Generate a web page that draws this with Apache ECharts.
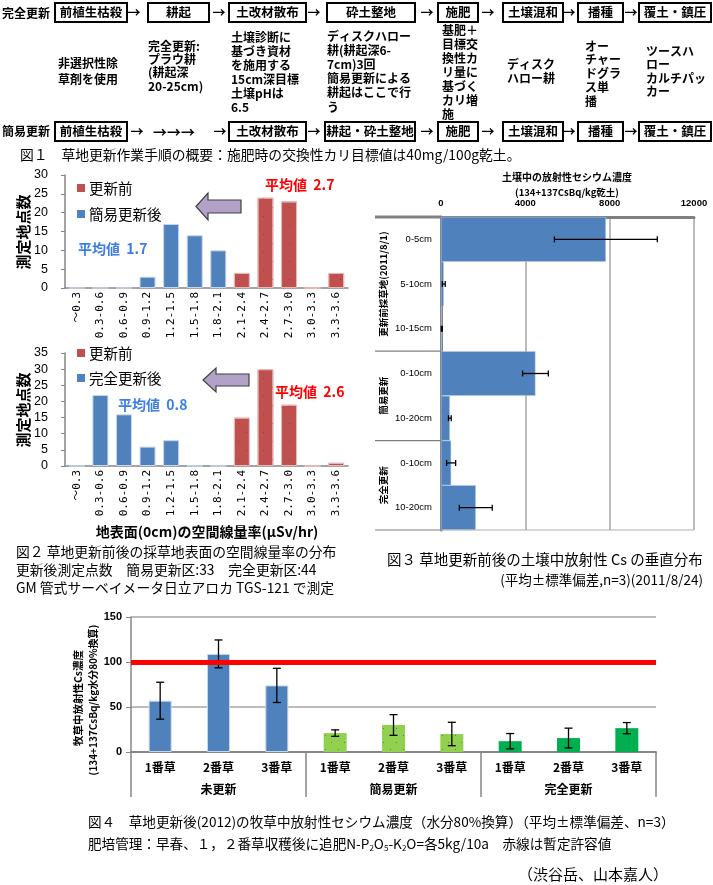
<!DOCTYPE html>
<html><head><meta charset="utf-8">
<script src="https://cdn.jsdelivr.net/npm/echarts@6/dist/echarts.min.js"></script>
<style>html,body{margin:0;padding:0;background:#fff}#c{width:713px;height:885px}</style>
</head><body><div id="c"></div>
<script>
// ---------------- DATA ----------------
// Fig.1 flowchart text
const flowFull = ['前植生枯殺','耕起','土改材散布','砕土整地','施肥','土壌混和','播種','覆土・鎮圧'];
const flowSimple = ['前植生枯殺','土改材散布','耕起・砕土整地','施肥','土壌混和','播種','覆土・鎮圧'];
const flowNotes = [
  ['非選択性除','草剤を使用'],
  ['完全更新:','プラウ耕','(耕起深','20-25cm)'],
  ['土壌診断に','基づき資材','を施用する','15cm深目標','土壌pHは','6.5'],
  ['ディスクハロー','耕(耕起深6-','7cm)3回','簡易更新による','耕起はここで行','う'],
  ['基肥＋','目標交','換性カ','リ量に','基づく','カリ増','施'],
  ['ディスク','ハロー耕'],
  ['オー','チャー','ドグラ','ス単','播'],
  ['ツースハ','ロー','カルチパッ','カー']
];
// Fig.2 histograms
const doseCats = ['～0.3','0.3-0.6','0.6-0.9','0.9-1.2','1.2-1.5','1.5-1.8','1.8-2.1','2.1-2.4','2.4-2.7','2.7-3.0','3.0-3.3','3.3-3.6'];
const simpleBefore = ['-','-','-','-','-','-','-',4,24,23,0,4];
const simpleAfter  = [0,0,0,3,17,14,10,'-','-','-','-','-'];
const fullBefore   = ['-','-','-','-','-','-','-',15,30,19,0,1];
const fullAfter    = [0,22,16,6,8,0,0,'-','-','-','-','-'];
const countTicksTop = [0,5,10,15,20,25,30];
const countTicksBottom = [0,5,10,15,20,25,30,35];
// Fig.3 soil Cs profile
const soilGroups = ['更新前採草地(2011/8/1)','簡易更新','完全更新'];
const soilDepths = ['0-5cm','5-10cm','10-15cm','0-10cm','10-20cm','0-10cm','10-20cm'];
const soilMean = [7820, 130, 40, 4480, 420, 480, 1650];
const soilSD   = [2440, 70, 25, 610, 65, 215, 780];
const soilTicks = [0,4000,8000,12000];
// Fig.4 grass Cs
const grassCuts = ['1番草','2番草','3番草','1番草','2番草','3番草','1番草','2番草','3番草'];
const grassGroups = ['未更新','簡易更新','完全更新'];
const grassNoRenew = [57,109,74,'-','-','-','-','-','-'];
const grassSimple  = ['-','-','-',21,30,20,'-','-','-'];
const grassFull    = ['-','-','-','-','-','-',12,15.5,26.5];
const grassSD      = [20.5,15.5,19,3.6,11.5,13,8.5,11,6.2];
const grassTicks = [0,50,100,150];
const limitValue = 100;

// ---------------- HELPERS ----------------
const JP = "'Noto Sans CJK JP', sans-serif";
const LAT = "'Liberation Sans', Arial, sans-serif";
function T(x, y, text, o) {
  o = o || {};
  return {
    type: 'text', x: x, y: y, rotation: o.rot || 0, silent: true, z: 100,
    style: {
      text: text, fill: o.color || '#000',
      fontSize: o.size || 12, fontWeight: o.weight || 'normal', fontFamily: o.family || JP,
      align: o.align || 'left', textAlign: o.align || 'left',
      verticalAlign: o.va || 'middle', textVerticalAlign: o.va || 'middle',
      lineHeight: o.lh || undefined, rich: o.rich || undefined
    }
  };
}
function L(x1, y1, x2, y2, color, w) {
  return { type: 'line', silent: true, z: 50, shape: {x1, y1, x2, y2}, style: {stroke: color, lineWidth: w} };
}
const dotsBlue = {symbol:'rect', symbolSize:1, color:'#4a4f9a', dashArrayX:[[1,16],[0,8,1,8]], dashArrayY:[1,8], rotation:0};
const dotsGreen = {symbol:'rect', symbolSize:1, color:'#5b8a33', dashArrayX:[[1,12],[0,6,1,6]], dashArrayY:[1,6], rotation:0};

function vErr(params, api) {
  const x = api.value(0);
  const lo = api.coord([x, api.value(1)]);
  const hi = api.coord([x, api.value(2)]);
  const hw = 4, st = {stroke:'#000', lineWidth:1.3};
  return {type:'group', children:[
    {type:'line', shape:{x1:hi[0]-hw, y1:hi[1], x2:hi[0]+hw, y2:hi[1]}, style:st},
    {type:'line', shape:{x1:hi[0], y1:hi[1], x2:lo[0], y2:lo[1]}, style:st},
    {type:'line', shape:{x1:lo[0]-hw, y1:lo[1], x2:lo[0]+hw, y2:lo[1]}, style:st}
  ]};
}
function hErr(params, api) {
  const y = api.value(0);
  const lo = api.coord([api.value(1), y]);
  const hi = api.coord([api.value(2), y]);
  const hh = 3, st = {stroke:'#000', lineWidth:1.3};
  return {type:'group', children:[
    {type:'line', shape:{x1:lo[0], y1:lo[1]-hh, x2:lo[0], y2:lo[1]+hh}, style:st},
    {type:'line', shape:{x1:lo[0], y1:lo[1], x2:hi[0], y2:hi[1]}, style:st},
    {type:'line', shape:{x1:hi[0], y1:hi[1]-hh, x2:hi[0], y2:hi[1]+hh}, style:st}
  ]};
}
const soilErr = soilMean.map((m,i) => [i, Math.max(0, m - soilSD[i]), m + soilSD[i]]);
const grassVals = grassNoRenew.map((v,i) => v !== '-' ? v : (grassSimple[i] !== '-' ? grassSimple[i] : grassFull[i]));
const grassErr = grassVals.map((m,i) => [i, m - grassSD[i], m + grassSD[i]]);

// ---------------- GRAPHIC (flowchart, captions, legends) ----------------
const G = [];
const row1Box = [[55,127],[148,209],[229,306],[327,415],[438,478],[503,563],[578,623],[639,711]];
const row2Box = [[55,127],[229,306],[325,415],[438,478],[503,563],[578,623],[639,711]];
function boxes(list, labels, y1, y2) {
  list.forEach((b, i) => {
    G.push({type:'rect', silent:true, z:60, shape:{x:b[0], y:y1, width:b[1]-b[0], height:y2-y1},
            style:{fill:'#fff', stroke:'#000', lineWidth:2}});
    G.push(T((b[0]+b[1])/2, (y1+y2)/2, labels[i], {size:12.5, weight:'bold', align:'center'}));
  });
}
boxes(row1Box, flowFull, 3, 22);
boxes(row2Box, flowSimple, 122, 141);
G.push(T(2, 13, '完全更新', {size:12, weight:'bold'}));
G.push(T(2, 131.5, '簡易更新', {size:12, weight:'bold'}));
[134, 219, 314, 427, 488, 569, 631].forEach(x => G.push(T(x, 12.5, '→', {size:13, weight:'bold', align:'center'})));
[137, 220, 314, 427, 488, 569, 631].forEach(x => G.push(T(x, 131.5, '→', {size:13, weight:'bold', align:'center'})));
G.push(T(174, 131.5, '→→→', {size:14, weight:'bold', align:'center'}));
const noteLayout = [[58,63,16],[148,46,13.4],[231,37,14],[327,36,14.2],[442,30,14.1],[507,64,14],[585,46,13.8],[646,51,13.5]];
flowNotes.forEach((lines, i) => {
  const [x, y0, lh] = noteLayout[i];
  G.push(T(x, y0 - lh/2, lines.join('\n'), {size:12, weight:'bold', va:'top', lh:lh}));
});
G.push(T(20, 155, '図１　草地更新作業手順の概要：施肥時の交換性カリ目標値は40mg/100g乾土。', {size:13.8}));

// Fig 2 legends / annotations
function legend2(yRed, yBlue, blueText) {
  G.push({type:'rect', silent:true, z:60, shape:{x:77, y:yRed-4, width:8, height:8}, style:{fill:'#c0504d'}});
  G.push(T(89, yRed, '更新前', {size:14.5}));
  G.push({type:'rect', silent:true, z:60, shape:{x:77, y:yBlue-4, width:8, height:8}, style:{fill:'#4f81bd'}});
  G.push(T(89, yBlue, blueText, {size:14.5}));
}
legend2(188, 214, '簡易更新後');
legend2(353, 378, '完全更新後');
function blockArrow(tx, ty, headX, shaftEnd, hh, sh) {
  G.push({type:'polygon', silent:true, z:60, shape:{points:[
    [tx,ty],[headX,ty-hh],[headX,ty-sh],[shaftEnd,ty-sh],[shaftEnd,ty+sh],[headX,ty+sh],[headX,ty+hh]]},
    style:{fill:'#b3a2c7', stroke:'#404040', lineWidth:1.2}});
}
blockArrow(196, 206.5, 208, 241, 13.5, 6.5);
blockArrow(203, 380, 216, 249, 12, 6);
G.push(T(265, 185, '平均値  2.7', {size:14, weight:'bold', color:'#ff0000'}));
G.push(T(78, 249, '平均値  1.7', {size:14, weight:'bold', color:'#3c7ee6'}));
G.push(T(275, 392, '平均値  2.6', {size:14, weight:'bold', color:'#ff0000'}));
G.push(T(118, 405, '平均値  0.8', {size:14, weight:'bold', color:'#3c7ee6'}));
G.push(T(23, 232, '測定地点数', {size:15, weight:'bold', align:'center', rot:Math.PI/2}));
G.push(T(23, 410, '測定地点数', {size:15, weight:'bold', align:'center', rot:Math.PI/2}));
G.push(T(207, 532, '地表面(0cm)の空間線量率(μSv/hr)', {size:14, weight:'bold', align:'center'}));
G.push(T(16, 552, '図２ 草地更新前後の採草地表面の空間線量率の分布', {size:13.8}));
G.push(T(16, 570, '更新後測定点数　簡易更新区:33　完全更新区:44', {size:13.8}));
G.push(T(16, 588, 'GM 管式サーベイメータ日立アロカ TGS-121 で測定', {size:13.8}));

// Fig 3 titles / captions
G.push(T(567, 177, '土壌中の放射性セシウム濃度', {size:10, weight:'bold', align:'center'}));
G.push(T(567, 192, '(134+137CsBq/kg乾土)', {size:9.5, weight:'bold', align:'center'}));
G.push(T(387, 559, '図３ 草地更新前後の土壌中放射性 Cs の垂直分布', {size:14.5}));
G.push(T(703, 580, '(平均±標準偏差,n=3)(2011/8/24)', {size:13.5, align:'right'}));

// Fig 4 axis title / captions
G.push(T(78, 698, '牧草中放射性Cs濃度', {size:10.5, weight:'bold', align:'center', rot:Math.PI/2}));
G.push(T(93, 700, '(134+137CsBq/kg水分80%換算)', {size:10, weight:'bold', align:'center', rot:Math.PI/2}));
G.push(T(88, 822, '図４　草地更新後(2012)の牧草中放射性セシウム濃度（水分80%換算）（平均±標準偏差、n=3）', {size:13.6}));
G.push(T(88, 844, '肥培管理：早春、１，２番草収穫後に追肥N-P{s|2}O{s|5}-K{s|2}O=各5kg/10a　赤線は暫定許容値',
  {size:13.6, rich:{s:{fontSize:8, fontFamily:JP, verticalAlign:'bottom', padding:[7,0,0,0]}}}));
G.push(T(668, 874, '（渋谷岳、山本嘉人）', {size:15, align:'right'}));

// ---------------- OPTION ----------------
const axisGray = '#868686';
const option = {
  animation: false,
  backgroundColor: '#fff',
  grid: [
    {left:65, top:175, width:283, height:113, outerBoundsMode:'none'},
    {left:65, top:353, width:283, height:113, outerBoundsMode:'none'},
    {left:441, top:217, width:253, height:313, outerBoundsMode:'none'},
    {left:131, top:617, width:525, height:135, outerBoundsMode:'none'}
  ],
  xAxis: [0,1].map(g => ({
    type:'category', gridIndex:g, data:doseCats,
    axisLine:{lineStyle:{color:axisGray, width:1.5}},
    axisTick:{length:5, lineStyle:{color:axisGray}},
    axisLabel:{interval:0, rotate:90, margin:4, fontSize:11, color:'#000',
               fontFamily:"'DejaVu Sans Mono','Noto Sans CJK JP',monospace"}
  })).concat([
    {type:'value', gridIndex:2, position:'top', min:soilTicks[0], max:soilTicks[soilTicks.length-1],
     interval:soilTicks[1]-soilTicks[0],
     axisLine:{show:true, lineStyle:{color:'#808080', width:3}}, axisTick:{show:false},
     axisLabel:{margin:9, fontSize:9.5, fontWeight:'bold', color:'#000', fontFamily:LAT, formatter: v => String(v)},
     splitLine:{show:true, lineStyle:{color:'#a6a6a6', width:1.5}}},
    {type:'category', gridIndex:3, data:grassCuts, position:'bottom',
     axisLine:{lineStyle:{color:axisGray, width:2}},
     axisTick:{length:22, lineStyle:{color:'#cfcfcf', width:2}},
     axisLabel:{interval:0, margin:9, fontSize:12, fontWeight:'bold', color:'#000', fontFamily:JP}},
    {type:'category', gridIndex:3, data:grassGroups, position:'bottom', offset:0,
     axisLine:{show:false},
     axisTick:{show:true, length:45, lineStyle:{color:axisGray, width:1.5}},
     axisLabel:{interval:0, margin:31, fontSize:12, fontWeight:'bold', color:'#000', fontFamily:JP}}
  ]),
  yAxis: [
    {type:'value', gridIndex:0, min:countTicksTop[0], max:countTicksTop[countTicksTop.length-1], interval:countTicksTop[1]-countTicksTop[0],
     axisLine:{show:true, lineStyle:{color:axisGray, width:1.5}}, axisTick:{show:true, length:4, lineStyle:{color:axisGray}},
     splitLine:{show:false}, axisLabel:{margin:17, fontSize:12.5, color:'#000', fontFamily:LAT}},
    {type:'value', gridIndex:1, min:countTicksBottom[0], max:countTicksBottom[countTicksBottom.length-1], interval:countTicksBottom[1]-countTicksBottom[0],
     axisLine:{show:true, lineStyle:{color:axisGray, width:1.5}}, axisTick:{show:true, length:4, lineStyle:{color:axisGray}},
     splitLine:{show:false}, axisLabel:{margin:17, fontSize:12.5, color:'#000', fontFamily:LAT}},
    {type:'category', gridIndex:2, data:soilDepths, inverse:true,
     axisLine:{lineStyle:{color:'#808080', width:3}},
     axisTick:{length:44, lineStyle:{color:'#909090', width:1}},
     axisLabel:{margin:9, fontSize:9.5, color:'#000', fontFamily:LAT}},
    {type:'value', gridIndex:3, min:grassTicks[0], max:grassTicks[grassTicks.length-1], interval:grassTicks[1]-grassTicks[0],
     axisLine:{show:true, lineStyle:{color:axisGray, width:1.5}}, axisTick:{show:true, length:5, lineStyle:{color:axisGray}},
     splitLine:{show:true, lineStyle:{color:'#a6a6a6', width:1.5}},
     axisLabel:{margin:9, fontSize:11, fontWeight:'bold', color:'#000', fontFamily:LAT}}
  ],
  series: [
    {type:'bar', xAxisIndex:0, yAxisIndex:0, data:simpleAfter, barWidth:16, barGap:'-100%',
     itemStyle:{color:'#4f81bd', borderColor:'#c6d6ec', borderWidth:1}},
    {type:'bar', xAxisIndex:0, yAxisIndex:0, data:simpleBefore, barWidth:16, barGap:'-100%',
     itemStyle:{color:'#c0504d', borderColor:'#e6b9b8', borderWidth:1, decal:dotsBlue}},
    {type:'bar', xAxisIndex:1, yAxisIndex:1, data:fullAfter, barWidth:16, barGap:'-100%',
     itemStyle:{color:'#4f81bd', borderColor:'#c6d6ec', borderWidth:1}},
    {type:'bar', xAxisIndex:1, yAxisIndex:1, data:fullBefore, barWidth:16, barGap:'-100%',
     itemStyle:{color:'#c0504d', borderColor:'#e6b9b8', borderWidth:1, decal:dotsBlue}},
    {type:'bar', xAxisIndex:2, yAxisIndex:2, data:soilMean, barCategoryGap:'0%',
     itemStyle:{color:'#4f81bd', borderColor:'#b9cde5', borderWidth:0.5}},
    {type:'custom', xAxisIndex:2, yAxisIndex:2, data:soilErr, encode:{y:0, x:[1,2]}, renderItem:hErr, z:5},
    {type:'bar', xAxisIndex:3, yAxisIndex:3, data:grassNoRenew, barWidth:23, barGap:'-100%',
     itemStyle:{color:'#4f81bd', borderColor:'#c6d6ec', borderWidth:1},
     markLine:{silent:true, symbol:'none', label:{show:false}, z:10,
               lineStyle:{color:'#ff0000', width:5, type:'solid'}, data:[{yAxis:limitValue}]}},
    {type:'bar', xAxisIndex:3, yAxisIndex:3, data:grassSimple, barWidth:23, barGap:'-100%',
     itemStyle:{color:'#92d050', decal:dotsGreen}},
    {type:'bar', xAxisIndex:3, yAxisIndex:3, data:grassFull, barWidth:23, barGap:'-100%',
     itemStyle:{color:'#00b050'}},
    {type:'custom', xAxisIndex:3, yAxisIndex:3, data:grassErr, encode:{x:0, y:[1,2]}, renderItem:vErr, z:5}
  ],
  graphic: {elements: G}
};

const chart = echarts.init(document.getElementById('c'), null, {renderer:'canvas'});
chart.setOption(option);

// Fig 3 group separators & vertical group labels, positioned via the axis scale
const yc0 = chart.convertToPixel({yAxisIndex:2}, 0);
const yc1 = chart.convertToPixel({yAxisIndex:2}, 1);
const step = yc1 - yc0;
const bnd = k => yc0 - step/2 + k*step;
const xLeft = chart.convertToPixel({xAxisIndex:2}, soilTicks[0]);
const xRight = chart.convertToPixel({xAxisIndex:2}, soilTicks[soilTicks.length-1]);
const groupEdges = [0,3,5,7];
groupEdges.forEach((k, i) => {
  const y = bnd(k);
  G.push(L(375, y, xLeft, y, '#808080', (i === 0) ? 3 : 1.2));
  if (k === 7) G.push(L(xLeft, y, xRight, y, '#b0b0b0', 1.2));
});
soilGroups.forEach((g, i) => {
  const yMid = (bnd(groupEdges[i]) + bnd(groupEdges[i+1])) / 2;
  G.push(T(383, yMid, g, {size:9.5, weight:'bold', align:'center', rot:Math.PI/2}));
});
option.graphic = {elements: G};
chart.setOption(option, true);
</script></body></html>
